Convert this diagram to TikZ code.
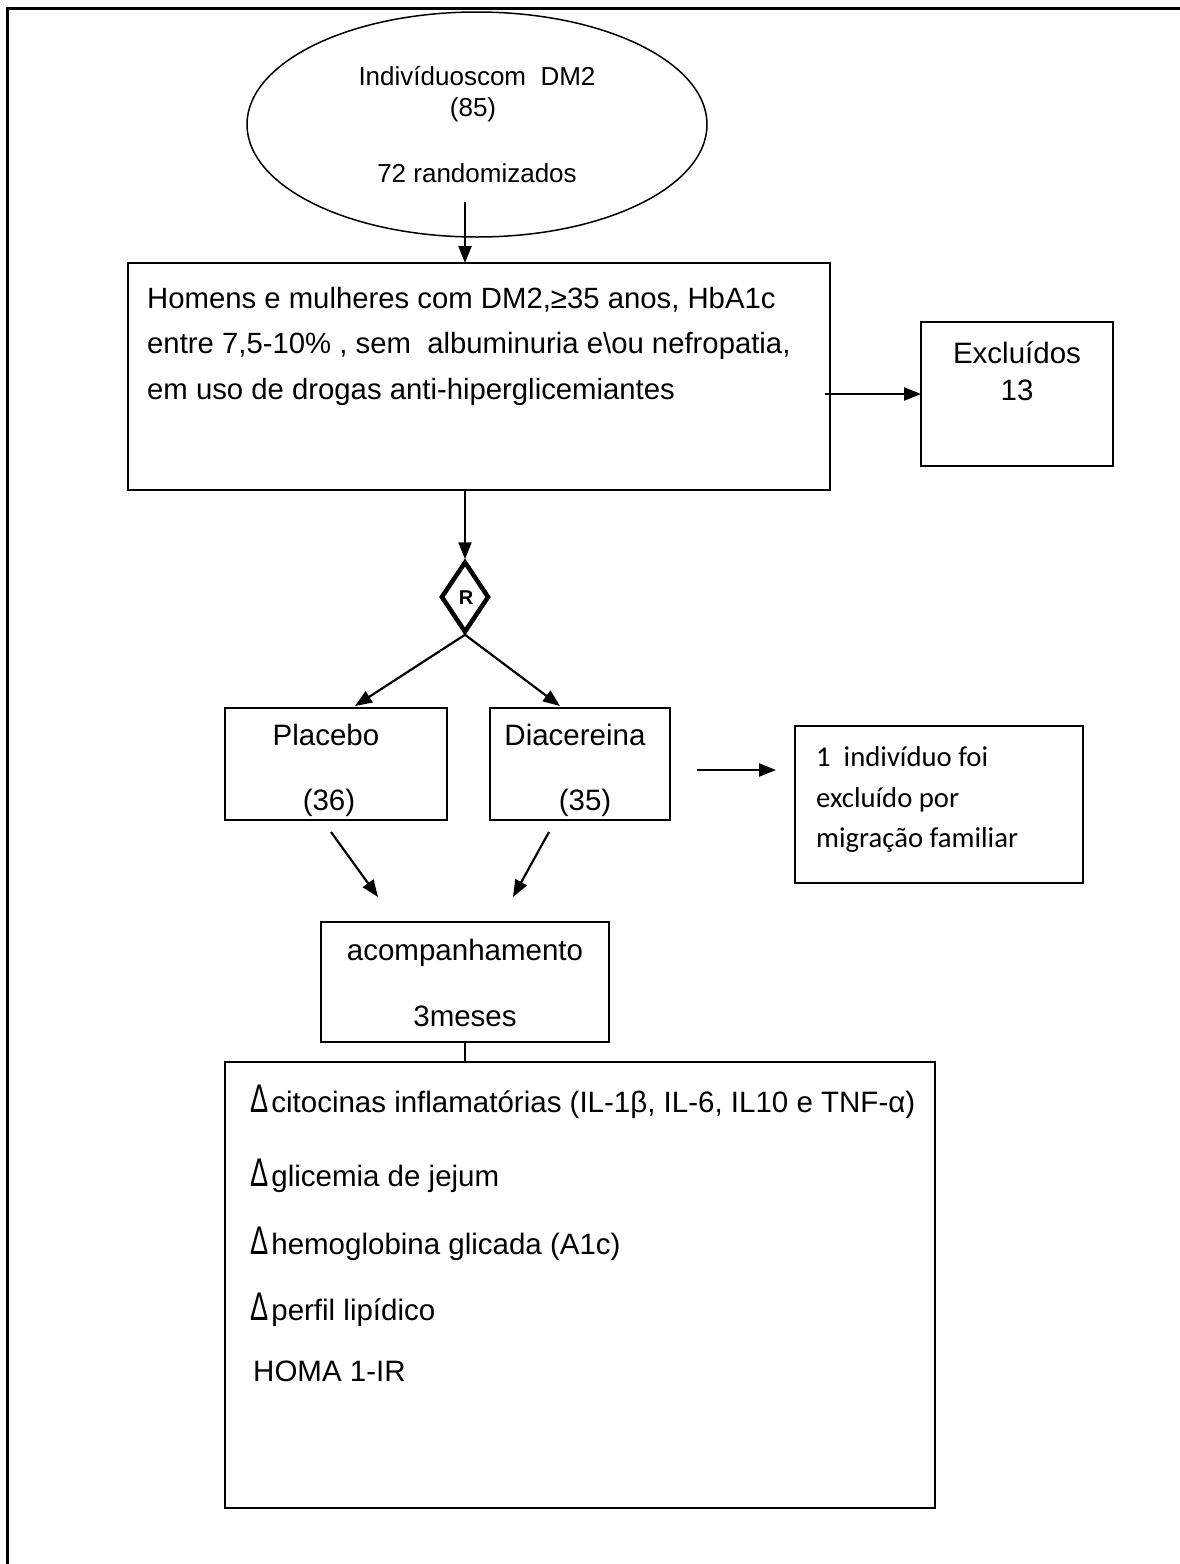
\documentclass[tikz,border=0pt]{standalone}
\usepackage{fontspec}
\setmainfont{Liberation Sans}
\newfontfamily\calfont{Carlito}
\usetikzlibrary{shapes.geometric,arrows.meta}
\tikzset{
  box/.style={draw, line width=2pt, rectangle, inner sep=0pt, outer sep=0pt},
  conn/.style={line width=2pt},
  arr/.style={line width=2.2pt, -{Triangle[length=17pt,width=13pt]}},
  etxt/.style={anchor=base, inner sep=0pt, font=\fontsize{26}{30}\selectfont},
  txt/.style={anchor=base, inner sep=0pt, font=\fontsize{29.5}{33}\selectfont},
  ltxt/.style={anchor=base west, inner sep=0pt, font=\fontsize{29.3}{33}\selectfont},
  ctxt/.style={anchor=base west, inner sep=0pt, font=\calfont\fontsize{28.7}{32}\selectfont},
  dtxt/.style={anchor=base west, inner sep=0pt, font=\fontsize{29.5}{33}\selectfont},
}
\newcommand{\dlt}{{\fontsize{40}{40}\selectfont\scalebox{0.68}[1]{Δ}}}
\begin{document}
\begin{tikzpicture}[x=1pt,y=-1pt]
\useasboundingbox (0,0) rectangle (1180,1564);
% frame
\draw[line width=3pt] (7,1564) -- (7,8) -- (1180,8);
% ellipse
\node[draw, ellipse, line width=1.5pt, minimum width=460pt, minimum height=225pt, inner sep=0pt] (ell) at (477,124.5) {};
\node[etxt] (e1) at (477,85) {Indivíduoscom~ DM2};
\node[etxt] (e2) at (473,116) {(85)};
\node[etxt] (e3) at (477,182) {72 randomizados};
% main box
\node[box, minimum width=702pt, minimum height=227pt] (main) at (479,376.5) {};
\node[ltxt] (m1) at (147,308) {Homens e mulheres com DM2,≥35 anos, HbA1c};
\node[ltxt] (m2) at (147,353) {entre 7,5-10\% , sem~ albuminuria e\textbackslash ou nefropatia,};
\node[ltxt] (m3) at (147,399) {em uso de drogas anti-hiperglicemiantes};
% excluidos
\node[box, minimum width=192pt, minimum height=144pt] (excl) at (1017,394) {};
\node[txt] (x1) at (1017,363) {Excluídos};
\node[txt] (x2) at (1017,400) {13};
% diamond
\node[draw, diamond, line width=4.5pt, minimum width=48pt, minimum height=71pt, inner sep=0pt] (dia) at (465,597) {};
\node[anchor=center, inner sep=0pt, font=\bfseries\fontsize{20}{24}\selectfont] (rr) at (466,598) {R};
% placebo / diacereina
\node[box, minimum width=222pt, minimum height=112pt] (plac) at (336,764) {};
\node[txt] (p1) at (326,745) {Placebo};
\node[txt] (p2) at (329,810) {(36)};
\node[box, minimum width=180pt, minimum height=112pt] (diac) at (580,764) {};
\node[txt] (d1) at (575,745) {Diacereina};
\node[txt] (d2) at (585,810) {(35)};
% excluded 2
\node[box, minimum width=288pt, minimum height=157pt] (exc2) at (939,804.5) {};
\node[ctxt] (c1) at (816,766) {1~ indivíduo foi};
\node[ctxt] (c2) at (816,807) {excluído por};
\node[ctxt] (c3) at (816,847) {migração familiar};
% acompanhamento
\node[box, minimum width=288pt, minimum height=120pt] (acomp) at (465,982) {};
\node[txt] (a1) at (465,960) {acompanhamento};
\node[txt] (a2) at (465,1026) {3meses};
% outcomes
\node[box, minimum width=710pt, minimum height=446pt] (outc) at (580,1285) {};
\node[dtxt] (o1) at (250,1112) {\dlt\hspace{3pt}citocinas inflamatórias (IL-1β, IL-6, IL10 e TNF-α)};
\node[dtxt] (o2) at (250,1186) {\dlt\hspace{3pt}glicemia de jejum};
\node[dtxt] (o3) at (250,1254) {\dlt\hspace{3pt}hemoglobina glicada (A1c)};
\node[dtxt] (o4) at (250,1320) {\dlt\hspace{3pt}perfil lipídico};
\node[dtxt] (o5) at (253,1381) {HOMA 1-IR};
% connectors
\coordinate (s1) at (465,202);
\draw[arr] (s1) -- (s1 |- main.north);
\draw[arr] (main.south -| dia.north) -- (dia.north);
\coordinate (s2) at (825,394);
\draw[arr] (s2) -- (excl.west);
\coordinate (t1) at (355,706);
\coordinate (t2) at (560,706);
\draw[arr] (dia.south) -- (t1);
\draw[arr] (dia.south) -- (t2);
\coordinate (s3) at (697,770);
\coordinate (t3) at (776,770);
\draw[arr] (s3) -- (t3);
\coordinate (s4) at (331,832);
\coordinate (t4) at (378,897);
\coordinate (s5) at (549,832);
\coordinate (t5) at (513,897);
\draw[arr] (s4) -- (t4);
\draw[arr] (s5) -- (t5);
\draw[conn] (acomp.south) -- (acomp.south |- outc.north);
\end{tikzpicture}
\end{document}
